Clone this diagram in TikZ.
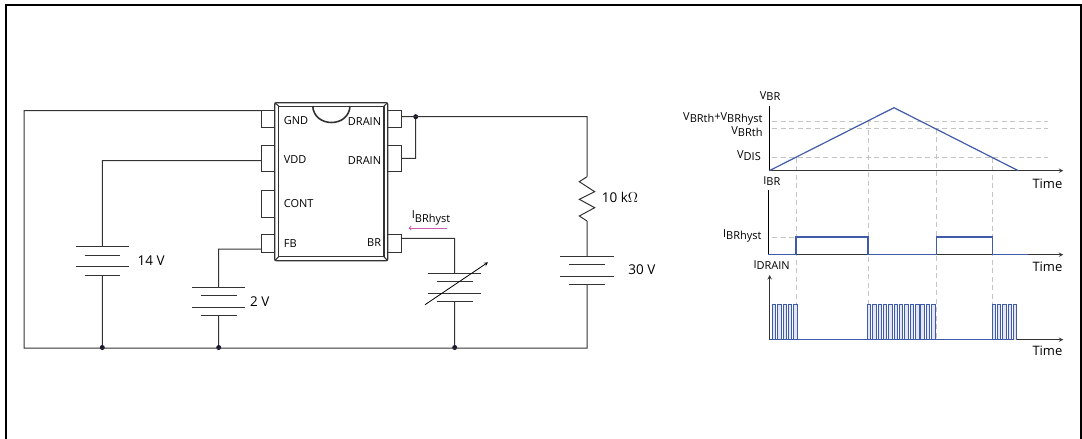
\documentclass[tikz,border=0pt]{standalone}
\usepackage{fontspec}
\setmainfont{Open Sans}
\usetikzlibrary{positioning,calc}

\definecolor{wirecol}{HTML}{333333}
\definecolor{tracecol}{HTML}{3F5BA9}
\definecolor{guidecol}{HTML}{C4C4C4}
\definecolor{pinkcol}{HTML}{C95BB0}
\definecolor{dotcol}{HTML}{14142E}

\newcommand{\lowr}[1]{\raisebox{-0.3ex}{#1}}
\newcommand{\battery}[3]{%
    \node (#1) [cell] at (#2,#3) {};
    \draw [plate] (#1.north west) -- (#1.north east);
    \draw [plate] ($(#1.north)+(-17.8,8.3)$) -- +(35.6,0);
    \draw [plate] ($(#1.north)+(-26.7,20)$) -- +(53.4,0);
    \draw [plate] ($(#1.south)+(-17.8,0)$) -- +(35.6,0);
}

\tikzset{
    wire/.style={draw=wirecol,line width=1pt},
    plate/.style={draw=wirecol,line width=1pt},
    cell/.style={minimum width=53.4pt,minimum height=28.3pt,inner sep=0pt,outer sep=0pt,anchor=north},
    pinbox/.style={draw=wirecol,line width=1pt,minimum width=13.4pt,inner sep=0pt,outer sep=0pt},
    dot/.style={circle,fill=dotcol,minimum size=5pt,inner sep=0pt,outer sep=0pt},
    pinlabel/.style={font=\fontsize{11}{11}\selectfont,inner sep=0pt},
    vlabel/.style={font=\fontsize{13.5}{13.5}\selectfont,inner sep=0pt},
    axislabel/.style={font=\fontsize{11}{11}\selectfont,inner sep=0pt},
    timelabel/.style={font=\fontsize{13}{13}\selectfont,inner sep=0pt,anchor=west},
    axis/.style={draw=wirecol,line width=1pt},
    trace/.style={draw=tracecol,line width=1.2pt},
    guide/.style={draw=guidecol,line width=1pt,dash pattern=on 5pt off 3.5pt},
}

\begin{document}
\begin{tikzpicture}[x=1pt,y=-1pt]
    \useasboundingbox (0,0) rectangle (1082,439);
    % frame
    \draw [line width=2pt] (6,439) -- (6,5) -- (1081,5) -- (1081,439);

    % package
    \node (body) [draw=wirecol,line width=1.3pt,rounded corners=1.5pt,minimum width=113pt,minimum height=158pt,inner sep=0pt,outer sep=0pt] at (331.2,181.7) {};
    \node (core) [draw=wirecol,line width=1.1pt,minimum width=105.3pt,minimum height=150.7pt,inner sep=0pt,outer sep=0pt] at (331.3,181.4) {};
    \draw [wire] (body.north west) -- (core.north west);
    \draw [wire] (body.north east) -- (core.north east);
    \draw [wire] (body.south west) -- (core.south west);
    \draw [wire] (body.south east) -- (core.south east);
    \coordinate (NL) at (312.7,106);
    \coordinate (NR) at (350,106);
    \draw [draw=wirecol,line width=1.6pt] (NL) .. controls (314,128) and (349,128) .. (NR);

    % pins
    \node (PGND) [pinbox,minimum height=17.3pt,anchor=east] at (274.7,119.3) {};
    \node (PVDD) [pinbox,minimum height=26.3pt,anchor=east] at (274.7,158.8) {};
    \node (PCONT) [pinbox,minimum height=27pt,anchor=east] at (274.7,203.5) {};
    \node (PFB) [pinbox,minimum height=17.3pt,anchor=east] at (274.7,243.6) {};
    \node (PD1) [pinbox,minimum height=17.3pt,anchor=west] at (387.7,119.3) {};
    \node (PD2) [pinbox,minimum height=26.3pt,anchor=west] at (387.7,158.8) {};
    \node (PBR) [pinbox,minimum height=17.3pt,anchor=west] at (387.7,243.6) {};

    \node (LGND) [pinlabel,anchor=west] at (283.7,120.7) {GND};
    \node (LVDD) [pinlabel,anchor=west] at (283.7,160) {VDD};
    \node (LCONT) [pinlabel,anchor=west] at (283.7,203.7) {CONT};
    \node (LFB) [pinlabel,anchor=west] at (283.7,243.7) {FB};
    \node (LD1) [pinlabel,anchor=east] at (381.3,121.7) {DRAIN};
    \node (LD2) [pinlabel,anchor=east] at (381.3,160.7) {DRAIN};
    \node (LBR) [pinlabel,anchor=east] at (381.3,243) {BR};

    % sources
    \battery{B14}{102.3}{246.7}
    \battery{B2}{218.7}{287}
    \battery{BV}{454.7}{273.5}
    \battery{B30}{587}{256}
    \node (L14) [vlabel,right=8.5pt of B14] {14 V};
    \node (L2) [vlabel,right=4.5pt of B2] {2 V};
    \node (L30) [vlabel,right=14.5pt of B30] {30 V};
    \coordinate (BVa) at (425,304.7);
    \coordinate (BVb) at (488,262.3);
    \draw [-stealth,line width=0.8pt] (BVa) -- (BVb);

    % circuit wires
    \coordinate (TL) at (24,110.7);
    \coordinate (BL) at (24,348);
    \coordinate (BRc) at (587,348);
    \coordinate (TRc) at (587,116.7);
    \coordinate (VDDw) at (261.3,160.7);
    \coordinate (FBw) at (261.3,249);
    \coordinate (BRw) at (401.1,238.3);
    \coordinate (D1w) at (401.1,116.7);
    \coordinate (D2w) at (401.1,158.3);
    \node (J1) [dot] at (415.7,116.7) {};
    \node (J14) [dot] at (102.3,347.5) {};
    \node (J2) [dot] at (218.7,347.5) {};
    \node (JV) [dot] at (454.7,347.5) {};
    \coordinate (R0) at (587,176.7);
    \coordinate (R7) at (587,221);
    \draw [wire]
        (PGND.north west) -- (TL) -- (BL) -- (BRc) -- (B30.south)
        (B30.north) -- (R7)
        (R0) -- (TRc) -- (D1w)
        (J1) |- (D2w)
        (VDDw) -| (B14.north)
        (B14.south) -- (J14)
        (FBw) -| (B2.north)
        (B2.south) -- (J2)
        (BRw) -| (BV.north)
        (BV.south) -- (JV);
    \draw [wire] (R0) -- (579.3,181.7) -- (594.7,191.7) -- (579.3,199.3) -- (594.7,207.7) -- (579.3,216) -- (R7);
    \node (LR) [vlabel,anchor=west] at (601.7,197) {10 k$\Omega$};

    % hysteresis current
    \node (LI) [pinlabel,anchor=west] at (411.7,218) {\raisebox{0.3ex}{I}\lowr{BRhyst}};
    \coordinate (Ia) at (446.7,228);
    \coordinate (Ib) at (408.7,228);
    \draw [->,draw=pinkcol,line width=0.9pt] (Ia) -- (Ib);

    % guides
    \foreach \gy/\gx in {121/868,128.7/936.3,157.7/796} {
        \draw [guide] (772,\gy) -- (1048,\gy);
        \draw [guide] (\gx,\gy) -- (\gx,340);
    }
    \draw [guide] (992.3,157.5) -- (992.3,340);
    \draw [guide] (772,237) -- (796,237);

    % V_BR
    \coordinate (A1) at (769.3,106);
    \coordinate (O1) at (769.3,170.7);
    \coordinate (E1) at (1063.3,170.7);
    \draw [axis,-stealth] (O1) -- (E1);
    \draw [axis,draw=black] (O1) -- (A1);
    \draw [trace] (O1) -- (894,107.7) -- (1018.3,170.7);
    \node (LVBR) [axislabel,anchor=east] at (780.5,96) {V\lowr{BR}};
    \node (LVH) [axislabel,anchor=east] at (762.7,119) {V\lowr{BRth}+V\lowr{BRhyst}};
    \node (LVT) [axislabel,anchor=east] at (762.7,131.7) {V\lowr{BRth}};
    \node (LVD) [axislabel,anchor=east] at (761,156) {V\lowr{DIS}};
    \node (T1) [timelabel] at (1032.3,184) {Time};

    % I_BR
    \coordinate (A2) at (768.3,190);
    \coordinate (O2) at (768.3,254.7);
    \coordinate (E2) at (1063.3,254.7);
    \draw [axis,-stealth] (O2) -- (E2);
    \draw [axis,draw=black] (O2) -- (A2);
    \draw [trace] (O2) -- (796,254.7) -- (796,237) -- (868,237) -- (868,254.7) -- (936.3,254.7) -- (936.3,237) -- (992.3,237) -- (992.3,254.7) -- (1027.7,254.7);
    \node (LIB) [axislabel,anchor=east] at (780.5,181) {I\lowr{BR}};
    \node (LIH) [axislabel,anchor=east] at (761.7,235.7) {I\lowr{BRhyst}};
    \node (T2) [timelabel] at (1032.3,266.7) {Time};

    % I_DRAIN
    \coordinate (A3) at (769.7,275);
    \coordinate (O3) at (769.7,339.7);
    \coordinate (E3) at (1063.3,339.7);
    \draw [axis,stealth-stealth] (A3) -- (O3) -- (E3);
    \foreach \st/\nb in {772.3/5,867.4/13,992/5} {
        \foreach \k in {1,...,\nb} {
            \draw [trace,line width=0.9pt,fill=tracecol!15] ({\st+5.35*(\k-1)},339.7) -- +(0,-35) -- +(3.4,-35) -- +(3.4,0);
        }
    }
    \draw [trace] (O3) -- (1014,339.7);
    \node (LID) [axislabel,anchor=west] at (753.3,265) {I\lowr{DRAIN}};
    \node (T3) [timelabel] at (1032.3,350.7) {Time};
\end{tikzpicture}
\end{document}
